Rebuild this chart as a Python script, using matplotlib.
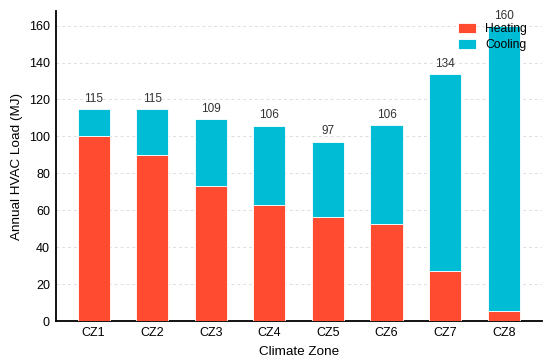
import matplotlib; matplotlib.use("Agg")
import matplotlib.pyplot as plt
import numpy as np

plt.rcParams["font.family"] = ["Liberation Sans", "DejaVu Sans"]

zones = ["CZ1", "CZ2", "CZ3", "CZ4", "CZ5", "CZ6", "CZ7", "CZ8"]
heating = [100.3, 89.7, 73.4, 63.1, 56.2, 52.6, 27.1, 5.3]
cooling = [14.3, 25.1, 35.9, 42.8, 41.0, 53.6, 106.5, 154.3]

C_HEAT = "#FF4B2F"; C_COOL = "#00BCD4"

fig = plt.figure(figsize=(5.5, 3.62), dpi=100)
ax = fig.add_axes([0.101, 0.113, 0.884, 0.857])
x = np.arange(len(zones))
ax.bar(x, heating, width=0.55, color=C_HEAT, edgecolor="white", linewidth=0.6, label="Heating", zorder=3)
ax.bar(x, cooling, width=0.55, bottom=heating, color=C_COOL, edgecolor="white", linewidth=0.6, label="Cooling", zorder=3)
tot = np.array(heating) + np.array(cooling)
for xi, t in zip(x, tot):
    ax.annotate(f"{t:.0f}", xy=(xi, t), xytext=(0, 3), textcoords="offset points",
                ha="center", va="bottom", fontsize=8.5, color="#333333", zorder=4)

ax.set_xlim(-0.65, 7.65); ax.set_ylim(0, 168)
ax.set_yticks(range(0, 161, 20))
ax.set_xticks(x); ax.set_xticklabels(zones)
ax.tick_params(length=0, labelsize=9, pad=4, colors="black")
ax.yaxis.grid(True, ls=(0, (3, 3)), color="#dddddd", lw=0.7, zorder=0)
for s in ["top", "right"]: ax.spines[s].set_visible(False)
for s in ["left", "bottom"]: ax.spines[s].set_linewidth(1.3); ax.spines[s].set_color("black")
ax.set_xlabel("Climate Zone", fontsize=9.7, labelpad=5)
ax.set_ylabel("Annual HVAC Load (MJ)", fontsize=9.7)
ax.legend(loc="upper right", frameon=False, fontsize=8.7, handlelength=1.5, handleheight=0.9,
          bbox_to_anchor=(0.985, 0.985), borderaxespad=0.2, labelspacing=0.3)
fig.savefig("out.png", dpi=100)
